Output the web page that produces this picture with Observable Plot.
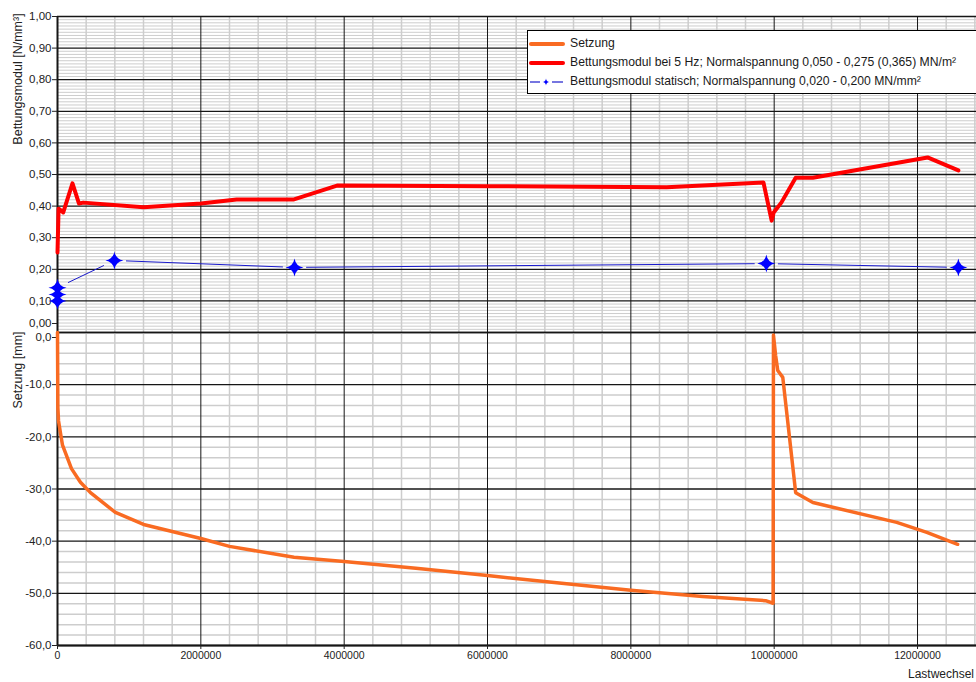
<!DOCTYPE html>
<html><head><meta charset="utf-8">
<script src="https://cdn.jsdelivr.net/npm/d3@7"></script>
<script src="https://cdn.jsdelivr.net/npm/@observablehq/plot@0.6"></script>
<style>
html,body{margin:0;padding:0;background:#fff;overflow:hidden;}
#chart{position:relative;width:976px;height:682px;overflow:hidden;font-family:"Liberation Sans",Arial,sans-serif;color:#222;background:#fff;}
#chart > svg{position:absolute;left:0;}
.ytitle{position:absolute;white-space:nowrap;font-size:12.5px;transform:translate(-50%,-50%) rotate(-90deg);}
#xtitle{position:absolute;left:908px;top:667px;font-size:12px;white-space:nowrap;}
#legend{position:absolute;left:527px;top:30px;width:470px;height:64px;border:1px solid #000;background:#fff;box-sizing:border-box;}
.lrow{position:absolute;left:0;height:18px;font-size:12.2px;white-space:nowrap;color:#1a1a1a;}
.lrow svg{position:absolute;left:0;top:0;}
.lrow span{position:absolute;left:42px;top:1px;}
</style></head>
<body><div id="chart"></div>
<script>
// ---- tick values ----
const xTicks = [0, 2000000, 4000000, 6000000, 8000000, 10000000, 12000000];
const modulTicks = [0, 0.1, 0.2, 0.3, 0.4, 0.5, 0.6, 0.7, 0.8, 0.9, 1.0];
const setzungTicks = [0, -10, -20, -30, -40, -50, -60];

// ---- Bettungsmodul bei 5 Hz ----
const dynX = [0, 15000, 80000, 209000, 300000, 360000, 1200000, 2000000, 2500000, 3300000, 3900000, 6000000, 8500000, 9850000, 9965000, 9993000, 10100000, 10300000, 10540000, 12140000, 12570000];
const dynY = [0.253, 0.392, 0.38, 0.472, 0.408, 0.411, 0.396, 0.408, 0.421, 0.421, 0.465, 0.463, 0.46, 0.475, 0.354, 0.38, 0.411, 0.49, 0.49, 0.554, 0.513];

// ---- Bettungsmodul statisch ----
const statX = [0, 0, 0, 794000, 3307000, 9890000, 12570000];
const statY = [0.10, 0.12, 0.142, 0.228, 0.206, 0.218, 0.206];

// ---- Setzung ----
const setzX = [0, 5000, 14000, 42000, 70000, 195000, 320000, 460000, 808000, 1200000, 2000000, 2400000, 3300000, 4000000, 5000000, 6000000, 7000000, 8000000, 9000000, 9880000, 9985000, 9990000, 10020000, 10050000, 10120000, 10300000, 10540000, 11710000, 12130000, 12560000];
const setzY = [0, -14.4, -16.9, -19.3, -21.6, -26.1, -28.7, -30.7, -34.5, -36.8, -39.5, -41.0, -43.1, -43.9, -45.2, -46.6, -48.0, -49.4, -50.6, -51.4, -51.9, -0.5, -4.4, -7.3, -8.6, -30.7, -32.6, -36.4, -38.3, -40.6];

// ---- legend / titles ----
const seriesNames = ["Setzung", "Bettungsmodul bei 5 Hz; Normalspannung 0,050 - 0,275 (0,365) MN/m²", "Bettungsmodul statisch; Normalspannung 0,020 - 0,200 MN/mm²"];
const seriesColors = ["#f96b22", "#ff0000", "#1a1acc"];
const yTitles = ["Bettungsmodul [N/mm³]", "Setzung [mm]"];
const xTitle = "Lastwechsel";

const dyn = dynX.map((x, i) => ({x, y: dynY[i]}));
const stat = statX.map((x, i) => ({x, y: statY[i]}));
const setz = setzX.map((x, i) => ({x, y: setzY[i]}));
const segs = d3.pairs(stat).filter(([a, b]) => a.x !== b.x).map(([a, b]) => ({x1: a.x, y1: a.y, x2: b.x, y2: b.y}));

const W = 976, xMax = 12823000;
const font = '"Liberation Sans", Arial, sans-serif';
const grey = "#cdcdcd", black = "#161616";
const minorX = d3.range(400000, xMax, 400000).filter(v => v % 2000000 !== 0);
const minorTop = d3.range(1, 100).filter(i => i % 10).map(i => i / 100);
const minorBot = d3.range(-58, 0, 2).filter(v => v % 10 !== 0);
const fmt2 = d => d.toFixed(2).replace(".", ",");
const fmt1 = d => d.toFixed(1).replace(".", ",");

const star4 = {
  draw(ctx, size) {
    const R = Math.sqrt(size / Math.PI), k = R * 0.14;
    ctx.moveTo(0, -R);
    ctx.quadraticCurveTo(k, -k, R, 0);
    ctx.quadraticCurveTo(k, k, 0, R);
    ctx.quadraticCurveTo(-k, k, -R, 0);
    ctx.quadraticCurveTo(-k, -k, 0, -R);
    ctx.closePath();
  }
};

const topPlot = Plot.plot({
  width: W, height: 334, marginTop: 16, marginBottom: 2, marginLeft: 57, marginRight: 0,
  style: {fontFamily: font, fontSize: "11.5px", color: "#222", background: "white"},
  x: {domain: [0, xMax], axis: null},
  y: {domain: [0, 1], axis: null},
  marks: [
    Plot.gridY(minorTop, {stroke: grey, strokeOpacity: 1, strokeWidth: 1}),
    Plot.gridX(minorX, {stroke: grey, strokeOpacity: 1, strokeWidth: 1.5}),
    Plot.gridY(modulTicks, {stroke: black, strokeOpacity: 1, strokeWidth: 1.3}),
    Plot.gridX(xTicks, {stroke: black, strokeOpacity: 1, strokeWidth: 1}),
    Plot.ruleX([0], {stroke: black, strokeWidth: 2}),
    Plot.axisY(modulTicks.filter(d => d > 0), {tickSize: 5, tickPadding: 1, tickFormat: fmt2, label: null}),
    Plot.axisY([0], {tickSize: 5, tickPadding: 1, tickFormat: fmt2, label: null, dy: -9}),
    Plot.arrow(segs, {x1: "x1", y1: "y1", x2: "x2", y2: "y2", inset: 12, headLength: 0, stroke: seriesColors[2], strokeWidth: 1}),
    Plot.line(dyn, {x: "x", y: "y", stroke: seriesColors[1], strokeWidth: 4, strokeLinejoin: "round"}),
    Plot.dot(stat, {x: "x", y: "y", symbol: star4, r: 9, fill: "#0000ff", stroke: "none"})
  ]
});

const botPlot = Plot.plot({
  width: W, height: 352, marginTop: 2, marginBottom: 37, marginLeft: 57, marginRight: 0,
  style: {fontFamily: font, fontSize: "11.5px", color: "#222", background: "transparent"},
  x: {domain: [0, xMax], axis: null},
  y: {domain: [-60, 0], axis: null},
  marks: [
    Plot.gridY(minorBot, {stroke: grey, strokeOpacity: 1, strokeWidth: 1.5}),
    Plot.gridX(minorX, {stroke: grey, strokeOpacity: 1, strokeWidth: 1.5}),
    Plot.gridY(setzungTicks, {stroke: black, strokeOpacity: 1, strokeWidth: 1.3}),
    Plot.gridX(xTicks, {stroke: black, strokeOpacity: 1, strokeWidth: 1}),
    Plot.ruleX([0], {stroke: black, strokeWidth: 2}),
    Plot.ruleY([-60], {stroke: black, strokeWidth: 2}),
    Plot.axisX(xTicks, {tickSize: 4, tickPadding: 2, tickFormat: d => String(d), fontSize: 10.5, label: null}),
    Plot.axisY(setzungTicks.filter(d => d < 0), {tickSize: 5, tickPadding: 1, tickFormat: fmt1, label: null}),
    Plot.axisY([0], {tickSize: 5, tickPadding: 1, tickFormat: fmt1, label: null, dy: 5}),
    Plot.line(setz, {x: "x", y: "y", stroke: seriesColors[0], strokeWidth: 3.5, strokeLinejoin: "round"})
  ]
});

const chart = document.getElementById("chart");
topPlot.style.top = "0px";
botPlot.style.top = "330px";
chart.appendChild(topPlot);
chart.appendChild(botPlot);

function addDiv(cls, id, text, css) {
  const d = document.createElement("div");
  if (cls) d.className = cls;
  if (id) d.id = id;
  d.textContent = text;
  Object.assign(d.style, css || {});
  chart.appendChild(d);
  return d;
}
addDiv("ytitle", null, yTitles[0], {left: "18px", top: "79px"});
addDiv("ytitle", null, yTitles[1], {left: "18px", top: "370px"});
addDiv(null, "xtitle", xTitle);

const legend = document.createElement("div");
legend.id = "legend";
chart.appendChild(legend);
const rowTops = [4, 23, 42];
seriesNames.forEach((name, i) => {
  const row = document.createElement("div");
  row.className = "lrow";
  row.style.top = rowTops[i] + "px";
  let sample;
  if (i < 2) {
    sample = `<svg width="40" height="18"><line x1="3" x2="35" y1="9" y2="9" stroke="${seriesColors[i]}" stroke-width="4" stroke-linecap="round"/></svg>`;
  } else {
    sample = `<svg width="40" height="18"><line x1="2" x2="12" y1="9" y2="9" stroke="${seriesColors[i]}" stroke-width="1.2"/><line x1="24" x2="35" y1="9" y2="9" stroke="${seriesColors[i]}" stroke-width="1.2"/><path d="M18 5.5Q18.4 8.6 21.5 9Q18.4 9.4 18 12.5Q17.6 9.4 14.5 9Q17.6 8.6 18 5.5Z" fill="#0000ff"/></svg>`;
  }
  row.innerHTML = sample;
  const sp = document.createElement("span");
  sp.textContent = name;
  row.appendChild(sp);
  legend.appendChild(row);
});
</script>
</body></html>
